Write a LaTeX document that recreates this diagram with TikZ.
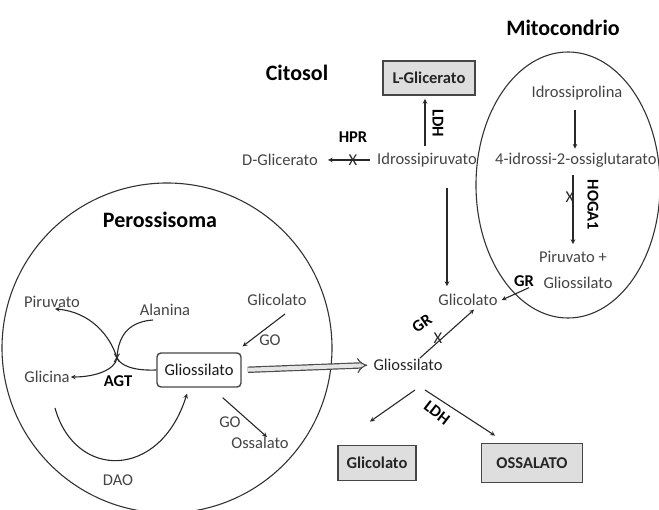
\documentclass[tikz,border=0pt]{standalone}
\usepackage{fontspec}
\setmainfont{Carlito}
\usetikzlibrary{arrows.meta}
\definecolor{metgray}{RGB}{68,68,68}
\definecolor{linegray}{RGB}{40,40,40}
\definecolor{boxgray}{RGB}{70,70,70}
\definecolor{boxfill}{RGB}{222,222,222}
\newcommand{\labsize}{\fontsize{16.5}{18}\selectfont}

\begin{document}
\begin{tikzpicture}[x=1pt,y=-1pt,font=\labsize]
\useasboundingbox (0,0) rectangle (659,510);

%
% Styles
%
\tikzstyle{compart}  = [font=\fontsize{22}{24}\selectfont\bfseries]
\tikzstyle{met}      = [text=metgray,inner sep=1pt]
\tikzstyle{enz}      = [font=\labsize\bfseries,inner sep=1pt]
\tikzstyle{final}    = [draw=boxgray,fill=boxfill,line width=1.8pt,font=\labsize\bfseries,text=black!85,inner sep=0pt]
\tikzstyle{inner}    = [draw=boxgray,rounded corners=4pt,line width=1.4pt,text=black!90,inner sep=0pt]
\tikzstyle{block}    = [inner sep=0pt,text=black!85]
\tikzstyle{edge}     = [->,>=stealth,draw=linegray,line width=1.1pt]
\tikzstyle{membrane} = [draw=black!80,line width=1.1pt]

% compartments
\draw[membrane] (167,348) circle [radius=165];
\draw[membrane] (568,185) ellipse [x radius=92, y radius=133];

\node[compart] (mito) at (563,28)  {Mitocondrio};
\node[compart] (cito) at (297,73)  {Citosol};
\node[compart] (pero) at (160,220) {Perossisoma};

% citosol
\node[final,minimum width=92pt,minimum height=34pt] (lglic) at (429,78) {L-Glicerato};
\node[met] (idrpir) at (427,160) {Idrossipiruvato};
\node[met] (dglic)  at (280,160) {D-Glicerato};
\node[enz] (hpr)    at (353,137) {HPR};
\node[block] (x1)   at (353,160) {X};
\node[enz,rotate=-90] (ldh1) at (438,123) {LDH};

\draw[edge,shorten <=6pt,shorten >=9pt] (idrpir.west) -- (dglic.east);
\draw[edge,shorten <=6pt,shorten >=3pt] ([xshift=-2pt]idrpir.north) -- ([xshift=-4pt]lglic.south);

% mitocondrio
\node[met] (idrpro) at (577,93) {Idrossiprolina};
\node[met,anchor=west] (oxglu) at (494,160) {4-idrossi-2-ossiglutarato};
\node[met] (pirplus)  at (573,257) {Piruvato +};
\node[met] (gliomito) at (578,283) {Gliossilato};
\node[block] (x2)     at (570,197) {X};
\node[enz,rotate=-90] (hoga) at (593,205) {HOGA1};
\node[enz] (gr1)      at (524,281) {GR};

\draw[edge,shorten <=9pt,shorten >=3pt] ([xshift=-2pt]idrpro.south) -- ([xshift=-2pt]idrpro.south |- oxglu.north);
\draw[edge,shorten <=7pt,shorten >=6pt] ([xshift=-4pt]idrpro.south |- oxglu.south) -- ([xshift=-4pt]idrpro.south |- pirplus.north);

% citosol, glioxilato
\node[met] (glicmid) at (468,300) {Glicolato};
\node[block,inner sep=1pt] (gliomid) at (408,365) {Gliossilato};
\node[block] (x4) at (438,338) {X};
\node[enz,rotate=35] (gr2) at (422,323) {GR};
\node[enz,rotate=-38] (ldh2) at (437,413) {LDH};
\node[final,minimum width=78pt,minimum height=35pt]  (glicbox) at (377,463) {Glicolato};
\node[final,minimum width=101pt,minimum height=39pt] (ossbox)  at (532,463) {OSSALATO};

\draw[edge] ([xshift=5pt]gr1.south) -- ([xshift=3pt]glicmid.east);
\draw[edge,shorten <=20pt,shorten >=7pt] ([xshift=20pt]idrpir.south) -- ([xshift=20pt]idrpir.south |- glicmid.north);
\draw[edge,shorten >=4pt] ([xshift=12pt]gliomid.north) -- ([xshift=9pt]glicmid.south);
\draw[edge] ([shift={(7,18)}]gliomid.south) -- ([shift={(-7,-23)}]glicbox.north);
\draw[edge] ([shift={(17,18)}]gliomid.south) -- ([shift={(-37,-7)}]ossbox.north);

% perossisoma
\node[met] (glicper) at (277,300) {Glicolato};
\node[inner,minimum width=84pt,minimum height=34pt] (glioper) at (199,370) {Gliossilato};
\node[met] (ossper)  at (260,443) {Ossalato};
\node[met] (go1)     at (270,340) {GO};
\node[met] (go2)     at (230,422) {GO};
\node[met] (pirper)  at (52,302)  {Piruvato};
\node[met] (alan)    at (165,310) {Alanina};
\node[met] (glicina) at (47,377)  {Glicina};
\node[enz] (agt)     at (118,381) {AGT};
\node[block,font=\fontsize{13}{14}\selectfont] (x3) at (117,358) {X};
\node[met] (dao)     at (118,480) {DAO};

\draw[edge] ([shift={(8,7)}]glicper.south) -- ([shift={(1,-6)}]glioper.north east);
\draw[edge] ([shift={(-19,10)}]glioper.south east) -- ([shift={(7,1)}]ossper.north);
\draw[edge] (glioper.west) .. controls (130,371) and (120,364) .. (x3.center)
  .. controls (110,335) and (90,312) .. ([shift={(3,0)}]pirper.south);
\draw[edge] ([shift={(-12,3)}]alan.south) .. controls (125,322) and (118,340) .. (x3.center)
  .. controls (115,370) and (95,377) .. (glicina.east);
\draw[edge] ([shift={(8,24)}]glicina.south) .. controls (75,480) and (160,480) .. ([shift={(-12,6)}]glioper.south);
\draw[-{Implies},double=black!10,double distance=4pt,draw=black!70,line width=1.2pt,shorten <=6pt,shorten >=5pt] (glioper.east) -- (gliomid.west);

\end{tikzpicture}
\end{document}
